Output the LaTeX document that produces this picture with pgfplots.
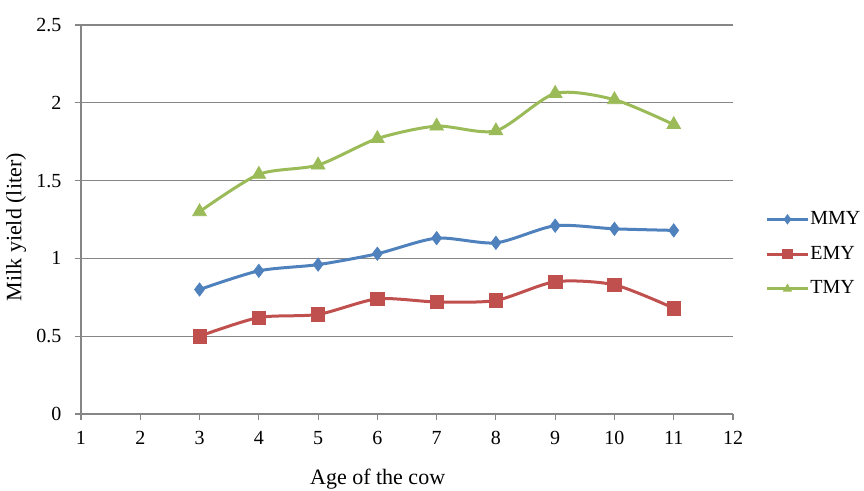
\documentclass[border=0pt]{standalone}
\usepackage{pgfplots}
\pgfplotsset{compat=1.18}
\usepackage{fontspec}
\setmainfont{Liberation Serif}
\definecolor{mmy}{HTML}{4F81BD}
\definecolor{emy}{HTML}{C0504D}
\definecolor{tmy}{HTML}{9BBB59}
\definecolor{axgray}{HTML}{868686}
\begin{document}
\fontsize{15pt}{18pt}\selectfont
\begin{tikzpicture}
\begin{axis}[
  scale only axis,
  width=489pt, height=291.75pt,
  xmin=1, xmax=12, ymin=0, ymax=2.5,
  xtick={1,...,12},
  ytick={0,0.5,1,1.5,2,2.5},
  axis lines=left,
  axis line style={draw=axgray, line width=0.8pt, -},
  tick align=outside,
  major tick length=4.5pt,
  tick style={draw=axgray, line width=0.8pt},
  ymajorgrids,
  grid style={draw=axgray, line width=0.8pt},
  /pgf/number format/assume math mode=true,
  ticklabel style={font=\fontsize{15pt}{18pt}\selectfont},
  xticklabel style={yshift=-3pt},
  yticklabel style={xshift=-5pt},
  xlabel={Age of the cow},
  ylabel={Milk yield (liter)},
  label style={font=\fontsize{16.5pt}{19pt}\selectfont},
  xlabel style={at={(axis description cs:0.455,0)}, anchor=north, yshift=-36pt},
  ylabel style={at={(axis description cs:0,0.48)}, anchor=south, yshift=36pt},
  legend style={at={(axis description cs:1.05,0.411)}, anchor=west, draw=none, fill=none,
    font=\fontsize{15pt}{18pt}\selectfont, row sep=12pt, inner sep=0pt,
    nodes={inner sep=1pt}},
  legend cell align=left,
  legend image code/.code={
    \draw[mark repeat=2,mark phase=2,#1, mark size=3.5pt] plot coordinates {(0cm,0cm) (0.53cm,0cm) (1.06cm,0cm)};
  },
  every axis plot/.append style={line width=2.25pt, smooth, tension=0.45},
  clip=false,
]
\addplot[color=mmy, mark=diamond*, mark size=5pt, mark options={line width=0.5pt, fill=mmy}] coordinates {
(3,0.80) (4,0.92) (5,0.96) (6,1.03) (7,1.13) (8,1.10) (9,1.21) (10,1.19) (11,1.18)};
\addlegendentry{MMY}
\addplot[color=emy, mark=square*, mark size=5pt, mark options={line width=0.5pt, fill=emy}] coordinates {
(3,0.50) (4,0.62) (5,0.64) (6,0.74) (7,0.72) (8,0.73) (9,0.85) (10,0.83) (11,0.68)};
\addlegendentry{EMY}
\addplot[color=tmy, mark=triangle*, mark size=6pt, mark options={line width=0.5pt, fill=tmy}] coordinates {
(3,1.30) (4,1.54) (5,1.60) (6,1.77) (7,1.85) (8,1.82) (9,2.06) (10,2.02) (11,1.86)};
\addlegendentry{TMY}
\end{axis}
\pgfresetboundingbox
\useasboundingbox ([xshift=-60.75pt,yshift=-57.75pt]current axis.south west) rectangle ++(648pt,368.25pt);
\end{tikzpicture}
\end{document}
